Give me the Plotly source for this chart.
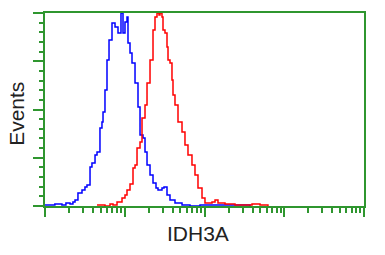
import plotly.graph_objects as go

# Fluorescence intensity (log scale) and event counts (% of max)
blue_x = [1.0, 1.33, 1.63, 1.83, 2.06, 2.24, 2.38, 2.59, 2.91, 3.17, 3.36, 3.67, 3.88, 4.24, 4.49,
          4.89, 5.18, 5.34, 5.65, 5.99, 6.35, 6.92, 7.55, 8.23, 8.97, 9.51, 10.07, 10.67, 10.98,
          11.64, 12.33, 13.45, 14.66, 15.54, 16.94, 17.95, 19.02, 20.74, 22.61, 24.65, 26.12,
          29.31, 31.06, 33.87, 36.92, 42.66, 52.24, 65.8, 87.8, 156.4, 372.0]
blue_y = [0.5, 1.0, 0.5, 1.6, 1.0, 2.1, 3.1, 6.7, 8.3, 9.8, 10.9, 20.2, 22.3, 26.4, 28.0,
          40.4, 43.5, 48.7, 60.1, 75.6, 86.0, 94.8, 92.7, 89.6, 100.0, 89.6, 95.3, 97.9, 84.5,
          79.3, 74.1, 63.7, 51.3, 36.8, 35.2, 28.0, 21.2, 16.1, 11.9, 9.3, 8.3,
          9.3, 9.8, 5.7, 3.1, 1.6, 0.5, 0.0, 0.5, 0.5, 0.0]

red_x = [4.49, 5.65, 6.53, 7.12, 8.00, 9.24, 10.07, 10.67, 11.64, 12.69, 13.45, 14.25, 15.54,
         16.46, 17.95, 19.02, 20.74, 22.61, 23.95, 25.37, 26.87, 27.66, 29.31, 30.17, 31.96,
         33.87, 34.87, 36.92, 39.11, 40.27, 42.66, 46.53, 52.24, 56.92, 62.08, 69.66, 75.99,
         82.86, 93.07, 101.4, 117.2, 124.2, 135.5, 147.6, 180.7, 241.2, 295.1, 394.5, 496.6, 625.2]
red_y = [0.5, 0.0, 1.0, 0.5, 2.1, 4.1, 5.7, 8.3, 11.4, 19.7, 21.2, 30.1, 33.2,
         45.6, 52.3, 63.7, 75.6, 91.2, 97.9, 100.0, 99.0, 100.0, 97.9, 91.2, 89.6,
         82.4, 75.6, 74.1, 65.3, 57.5, 52.3, 43.5, 38.3, 31.6, 26.4, 21.2, 16.1,
         9.3, 4.1, 1.6, 1.6, 2.1, 3.1, 1.6, 1.0, 0.5, 0.5, 1.0, 0.5, 0.0]

x_label = "IDH3A"
y_label = "Events"

GREEN = "#2f962f"

fig = go.Figure()
fig.add_trace(go.Scatter(x=blue_x, y=blue_y, mode="lines", line=dict(color="#0000ff", width=1.5, shape="hv"),
                         hoverinfo="skip"))
fig.add_trace(go.Scatter(x=red_x, y=red_y, mode="lines", line=dict(color="#ff0000", width=1.5, shape="hv"),
                         hoverinfo="skip"))

fig.update_layout(
    width=385, height=255,
    margin=dict(l=45, r=21, t=13, b=49),
    paper_bgcolor="white", plot_bgcolor="white",
    showlegend=False,
    font=dict(family="Liberation Sans, Arial, sans-serif", color="#222222"),
    xaxis=dict(type="log", range=[0, 4], dtick=1, showgrid=False, zeroline=False,
               showline=True, linecolor=GREEN, linewidth=2, mirror=True,
               ticks="outside", ticklen=9, tickwidth=1.5, tickcolor=GREEN,
               showticklabels=False,
               minor=dict(ticks="outside", ticklen=5, tickwidth=1.5, tickcolor=GREEN, dtick="D1", showgrid=False)),
    yaxis=dict(range=[0, 100], dtick=25, showgrid=False, zeroline=False,
               showline=True, linecolor=GREEN, linewidth=2, mirror=True,
               ticks="outside", ticklen=10, tickwidth=1.5, tickcolor=GREEN,
               showticklabels=False,
               minor=dict(ticks="outside", ticklen=4, tickwidth=1.5, tickcolor=GREEN, dtick=5, showgrid=False)),
    annotations=[
        dict(text=x_label, xref="paper", yref="paper", x=0.48, y=-0.145, showarrow=False,
             font=dict(size=21), xanchor="center", yanchor="middle"),
        dict(text=y_label, xref="paper", yref="paper", x=-0.088, y=0.477, showarrow=False,
             font=dict(size=21), textangle=-90, xanchor="center", yanchor="middle"),
    ],
)

fig.write_html("out.html")
